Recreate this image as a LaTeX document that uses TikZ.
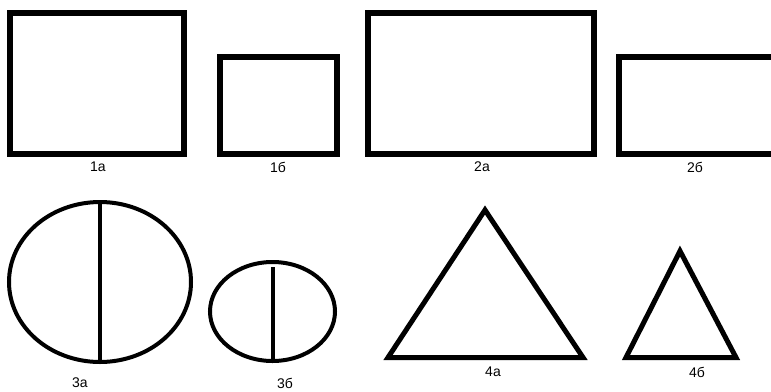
\documentclass[tikz,border=0pt]{standalone}
\usepackage{fontspec}
\setmainfont{Liberation Sans}
\usetikzlibrary{shapes.geometric}
\tikzset{
  fig/.style={draw, line width=5.5pt, inner sep=0pt, outer sep=0pt},
  oval/.style={draw, ellipse, line width=4pt, inner sep=0pt, outer sep=0pt},
  bar/.style={line width=4.5pt},
  tri/.style={line width=5pt},
  lbl/.style={font=\fontsize{14}{14}\selectfont, inner sep=0pt},
}
\begin{document}
\begin{tikzpicture}[x=1pt,y=-1pt]
    \useasboundingbox (0,0) rectangle (771,391);

    % rectangles
    \node[fig, minimum width=174pt, minimum height=141pt] (r1a) at (97,83.5){};
    \node[fig, minimum width=117pt, minimum height=97pt] (r1b) at (278.5,105.5){};
    \node[fig, minimum width=226pt, minimum height=141pt] (r2a) at (481,83.5){};
    \node[fig, minimum width=162pt, minimum height=97pt] (r2b) at (700,105.5){};

    % circles
    \node[oval, minimum width=182pt, minimum height=160pt] (c3a) at (100,282){};
    \node[oval, minimum width=125pt, minimum height=99pt] (c3b) at (272.5,311.5){};
    \coordinate (b3top) at (273,267);
    \coordinate (b3bot) at (273,361);
    \draw[bar] (c3a.north) -- (c3a.south);
    \draw[bar] (b3top) -- (b3bot);

    % triangles
    \coordinate (a4a) at (485,210);
    \coordinate (l4a) at (388,357.5);
    \coordinate (r4a) at (583,357.5);
    \coordinate (a4b) at (680,251);
    \coordinate (l4b) at (626,357.5);
    \coordinate (r4b) at (736,357.5);
    \draw[tri] (l4a) -- (a4a) -- (r4a) -- cycle;
    \draw[tri] (l4b) -- (a4b) -- (r4b) -- cycle;

    % labels
    \node[lbl] (t1a) at (98,167){1а};
    \node[lbl] (t1b) at (278,167){1б};
    \node[lbl] (t2a) at (482,167){2а};
    \node[lbl] (t2b) at (695,167){2б};
    \node[lbl] (t3a) at (80,383){3а};
    \node[lbl] (t3b) at (285,383){3б};
    \node[lbl] (t4a) at (493,372){4а};
    \node[lbl] (t4b) at (697,372){4б};
\end{tikzpicture}
\end{document}
